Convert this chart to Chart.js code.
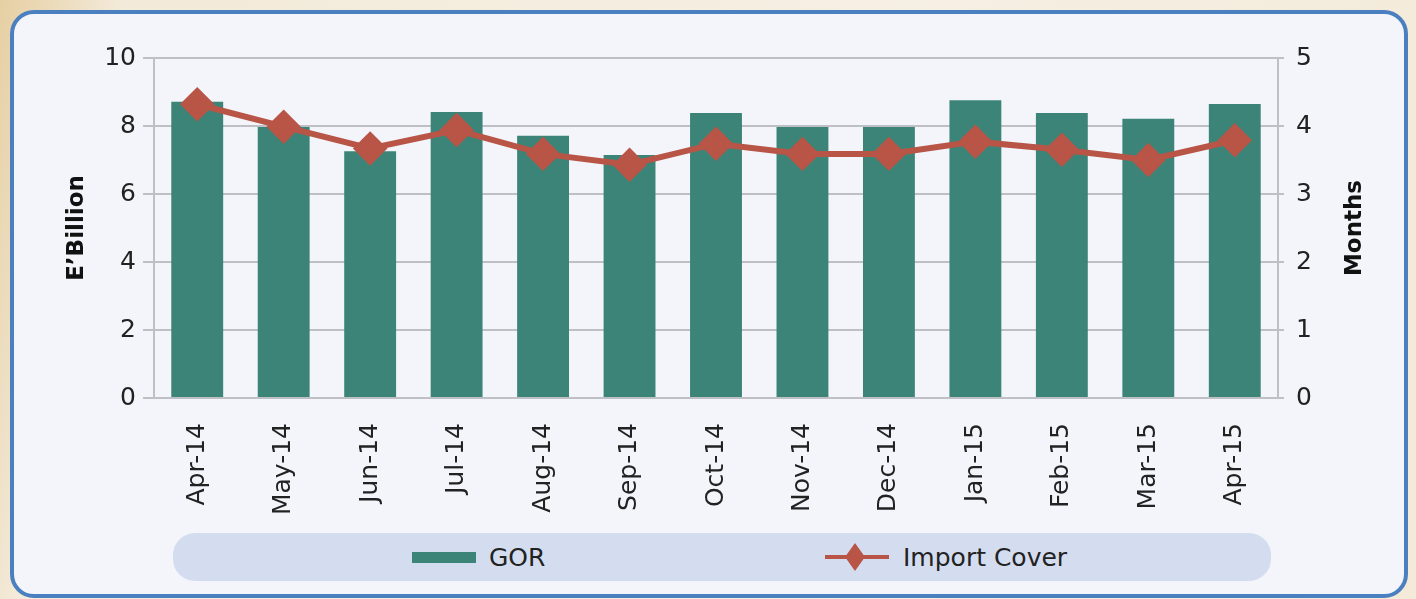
<!DOCTYPE html>
<html>
<head>
<meta charset="utf-8">
<script src="https://cdn.jsdelivr.net/npm/chart.js@4"></script>
<style>
  html, body { margin: 0; padding: 0; }
  body {
    width: 1416px; height: 599px; overflow: hidden; position: relative;
    background: linear-gradient(100deg, #e6cfa3 0%, #f3ead9 8%, #f6efe3 60%, #f3ead9 100%);
    font-family: "DejaVu Sans", sans-serif;
  }
  #card {
    position: absolute; left: 10px; top: 10px; width: 1390px; height: 580px;
    background: #f3f5fa; border: 4px solid #4a7fc0; border-radius: 24px;
  }
  #wrap { position: absolute; left: 0; top: 0; width: 1416px; height: 520px; }
  #legend {
    position: absolute; left: 173px; top: 533px; width: 1098px; height: 48px;
    background: #d4ddef; border-radius: 22px; color: #222; font-size: 25px;
  }
  .item { position: absolute; top: 0; height: 48px; display: flex; align-items: center; }
  .sw { width: 64px; height: 11px; background: #3b8477; margin-right: 13px; }
</style>
</head>
<body>
<div id="card"></div>
<div id="wrap"><canvas id="chart"></canvas></div>
<div id="legend">
  <div class="item" style="left:239px"><div class="sw"></div><span>GOR</span></div>
  <div class="item" style="left:652px">
    <svg width="64" height="30" style="margin-right:14px">
      <line x1="0" y1="15" x2="64" y2="15" stroke="#b85547" stroke-width="4"/>
      <polygon points="30,1 40,15 30,29 20,15" fill="#b85547"/>
    </svg><span>Import Cover</span>
  </div>
</div>
<script>
document.addEventListener("DOMContentLoaded", () => {
  const months = ["Apr-14", "May-14", "Jun-14", "Jul-14", "Aug-14", "Sep-14", "Oct-14",
                  "Nov-14", "Dec-14", "Jan-15", "Feb-15", "Mar-15", "Apr-15"];
  const gor = [8.71, 7.97, 7.26, 8.41, 7.71, 7.15, 8.38, 7.97, 7.97, 8.76, 8.38, 8.21, 8.65];
  const importCover = [4.32, 3.99, 3.67, 3.94, 3.59, 3.43, 3.74, 3.59, 3.59, 3.77, 3.65, 3.50, 3.79];
  const leftTicks = [0, 2, 4, 6, 8, 10];
  const rightTicks = [0, 1, 2, 3, 4, 5];

  const tickFont = { family: "DejaVu Sans", size: 25 };
  const titleFont = { family: "DejaVu Sans", size: 23, weight: "bold" };
  const gridColor = "#bfc0c6";

  // right axis title reads bottom-to-top in the original, Chart.js turns it the other way
  const rightTitle = {
    id: "rightTitle",
    afterDraw(chart) {
      const s = chart.scales.y2;
      const c = chart.ctx;
      c.save();
      c.translate(s.right - 16, (s.top + s.bottom) / 2);
      c.rotate(-Math.PI / 2);
      c.font = `bold ${titleFont.size}px "DejaVu Sans"`;
      c.fillStyle = "#111";
      c.textAlign = "center";
      c.textBaseline = "middle";
      c.fillText("Months", 0, 0);
      c.restore();
    },
  };

  const ctx = document.getElementById("chart").getContext("2d");
  new Chart(ctx, {
    type: "bar",
    data: {
      labels: months,
      datasets: [
        {
          type: "line",
          label: "Import Cover",
          data: importCover,
          yAxisID: "y2",
          borderColor: "#b85547",
          backgroundColor: "#b85547",
          borderWidth: 6,
          pointStyle: "rectRot",
          pointRadius: 13,
          pointHoverRadius: 13,
          tension: 0,
        },
        {
          label: "GOR",
          data: gor,
          yAxisID: "y",
          backgroundColor: "#3b8477",
          barPercentage: 0.6,
          categoryPercentage: 1,
        },
      ],
    },
    options: {
      responsive: true,
      maintainAspectRatio: false,
      animation: false,
      layout: { padding: { left: 59, right: 45, top: 58, bottom: 0 } },
      plugins: {
        legend: { display: false },
        tooltip: { enabled: false },
      },
      scales: {
        x: {
          grid: { display: false },
          border: { color: gridColor, width: 2 },
          ticks: { color: "#222", font: tickFont, minRotation: 90, maxRotation: 90, padding: 17 },
          afterFit: (s) => { s.height = 122; },
        },
        y: {
          position: "left",
          min: 0, max: 10,
          afterBuildTicks: (s) => { s.ticks = leftTicks.map((v) => ({ value: v })); },
          grid: { color: gridColor, lineWidth: 2, tickLength: 11 },
          border: { color: gridColor, width: 2 },
          ticks: { color: "#222", font: tickFont, padding: 7 },
          title: { display: true, text: "E’Billion", color: "#111", font: titleFont },
          afterFit: (s) => { s.width = 95; },
        },
        y2: {
          position: "right",
          min: 0, max: 5,
          afterBuildTicks: (s) => { s.ticks = rightTicks.map((v) => ({ value: v })); },
          grid: { drawOnChartArea: false, color: gridColor, lineWidth: 2, tickLength: 6 },
          border: { color: gridColor, width: 2 },
          ticks: { color: "#222", font: tickFont, padding: 12 },
          afterFit: (s) => { s.width = 93; },
        },
      },
    },
    plugins: [rightTitle],
  });
});
</script>
</body>
</html>
